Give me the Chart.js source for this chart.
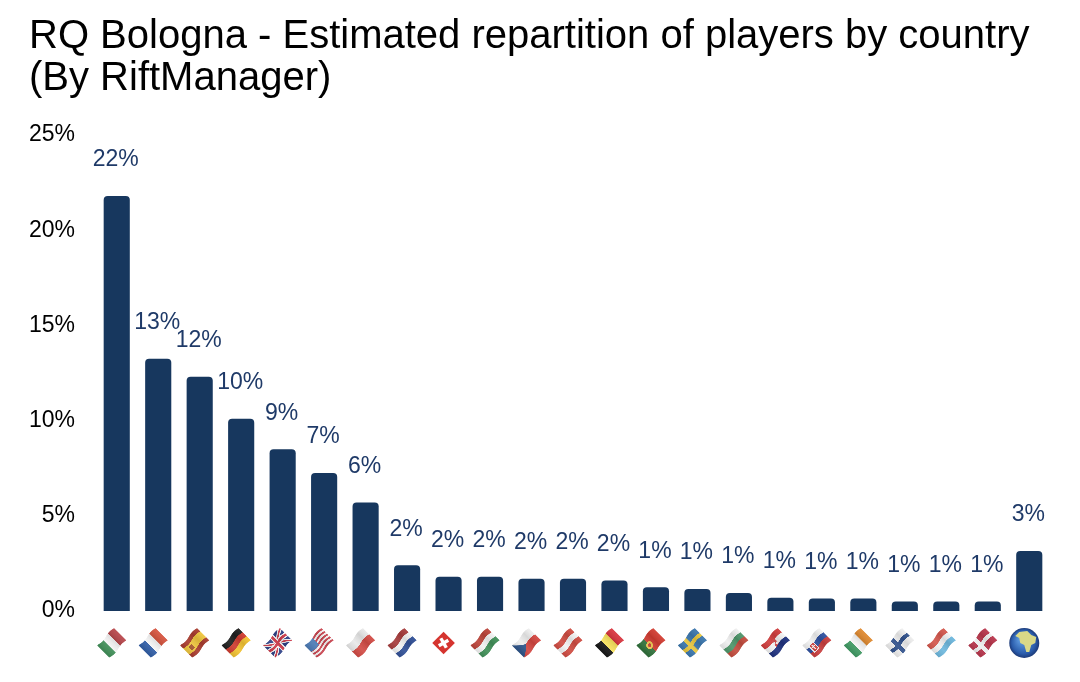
<!DOCTYPE html>
<html>
<head>
<meta charset="utf-8">
<title>RQ Bologna</title>
<style>
  html, body { margin: 0; padding: 0; background: #fff; }
  canvas { display: block; }
</style>
<script src="https://cdn.jsdelivr.net/npm/chart.js@4/dist/chart.umd.min.js"></script>
</head>
<body>
<canvas id="chart" width="1080" height="682"></canvas>
<script>
// data
var titleLines = ["RQ Bologna - Estimated repartition of players by country", "(By RiftManager)"];
var countries = ["Italy", "France", "Spain", "Germany", "UK", "USA", "Poland", "Netherlands", "Switzerland", "Hungary", "Czechia", "Austria", "Belgium", "Portugal", "Sweden", "Bulgaria", "Croatia", "Slovakia", "Ireland", "Finland", "Luxembourg", "Denmark", "World"];
var shares = [21.8, 13.25, 12.3, 10.1, 8.5, 7.25, 5.7, 2.4, 1.8, 1.8, 1.7, 1.7, 1.6, 1.25, 1.15, 0.95, 0.7, 0.65, 0.65, 0.5, 0.5, 0.5, 3.15];
var shareLabels = ["22%", "13%", "12%", "10%", "9%", "7%", "6%", "2%", "2%", "2%", "2%", "2%", "2%", "1%", "1%", "1%", "1%", "1%", "1%", "1%", "1%", "1%", "3%"];
var yTicks = [0, 5, 10, 15, 20, 25];

var FONT = '"Liberation Sans", Arial, sans-serif';
var BAR_COLOR = '#17375e';
var LABEL_COLOR = '#1f3a68';

// one painter per flag, each draws in a 24x17 box
function vert(cols) {
    return function(c) {
        cols.forEach(function(col, i) {
            c.fillStyle = col;
            c.fillRect(i * 24 / cols.length, 0, 24 / cols.length + 0.2, 17);
        });
    };
}
function horiz(cols) {
    return function(c) {
        cols.forEach(function(col, i) {
            c.fillStyle = col;
            c.fillRect(0, i * 17 / cols.length, 24, 17 / cols.length + 0.2);
        });
    };
}
function nordic(bg, cross) {
    return function(c) {
        c.fillStyle = bg;
        c.fillRect(0, 0, 24, 17);
        c.fillStyle = cross;
        c.fillRect(7, 0, 4, 17);
        c.fillRect(0, 6.5, 24, 4);
    };
}
var flagPainters = [
    vert(['#3f8f57', '#f4f4f4', '#b8474c']),
    vert(['#2f5da6', '#f4f4f4', '#d6543f']),
    function(c) {
        horiz(['#a83a2c', '#eec53c', '#eec53c', '#a83a2c'])(c);
        c.fillStyle = '#a5552a';
        c.fillRect(5, 6, 4, 5);
    },
    horiz(['#1c1c1c', '#cf3a2e', '#f2c230']),
    function(c) {
        c.fillStyle = '#2c3f86';
        c.fillRect(0, 0, 24, 17);
        c.strokeStyle = '#f2f2f2';
        c.lineWidth = 3.5;
        c.beginPath();
        c.moveTo(0, 0); c.lineTo(24, 17);
        c.moveTo(24, 0); c.lineTo(0, 17);
        c.stroke();
        c.strokeStyle = '#cc3a4a';
        c.lineWidth = 1.4;
        c.stroke();
        c.fillStyle = '#f2f2f2';
        c.fillRect(9.5, 0, 5, 17);
        c.fillRect(0, 6, 24, 5);
        c.fillStyle = '#cc3a4a';
        c.fillRect(10.7, 0, 2.6, 17);
        c.fillRect(0, 7.2, 24, 2.6);
    },
    function(c) {
        horiz(['#c9444f', '#f4f0f0', '#c9444f', '#f4f0f0', '#c9444f', '#f4f0f0', '#c9444f', '#f4f0f0', '#c9444f'])(c);
        c.fillStyle = '#4a7ab5';
        c.fillRect(0, 0, 11, 9);
    },
    horiz(['#e8e8e8', '#d24a44']),
    horiz(['#a63b3b', '#f2f2f2', '#2f4f96']),
    null, // Switzerland is square, see drawFlag
    horiz(['#bb4238', '#f2f2f2', '#3f8f57']),
    function(c) {
        horiz(['#eeeeee', '#d3443f'])(c);
        c.fillStyle = '#2b5288';
        c.beginPath();
        c.moveTo(0, 0); c.lineTo(11, 8.5); c.lineTo(0, 17);
        c.fill();
    },
    horiz(['#cf4a40', '#f2f2f2', '#cf4a40']),
    vert(['#151515', '#f6e05a', '#d9363f']),
    function(c) {
        c.fillStyle = '#d23b30';
        c.fillRect(0, 0, 24, 17);
        c.fillStyle = '#2c6e37';
        c.fillRect(0, 0, 9.5, 17);
        c.fillStyle = '#e8c24a';
        c.beginPath();
        c.arc(9.5, 8.5, 3.6, 0, Math.PI * 2);
        c.fill();
        c.fillStyle = '#c23a30';
        c.beginPath();
        c.arc(9.5, 8.5, 1.8, 0, Math.PI * 2);
        c.fill();
    },
    nordic('#3a76ad', '#e6c43c'),
    horiz(['#efefef', '#4c9468', '#c24a3c']),
    function(c) {
        horiz(['#cf3b3b', '#f2f2f2', '#1c2f7d'])(c);
        c.fillStyle = '#d04848';
        c.fillRect(10, 4.5, 4.5, 7);
        c.fillStyle = '#f2f2f2';
        c.fillRect(10, 6.5, 2.2, 2.2);
        c.fillRect(12.2, 8.7, 2.2, 2.2);
    },
    function(c) {
        horiz(['#f0f0f0', '#2d4f9e', '#c83c3c'])(c);
        c.fillStyle = '#f0f0f0';
        c.fillRect(3.5, 3.5, 7, 9.5);
        c.fillStyle = '#c83c3c';
        c.fillRect(4.5, 4.5, 5, 7.5);
        c.fillStyle = '#f0f0f0';
        c.fillRect(6.4, 5, 1.2, 6);
        c.fillRect(5, 7, 4, 1.2);
    },
    vert(['#3f9a63', '#f4f4f4', '#e08a30']),
    nordic('#eeeeee', '#2e4f8a'),
    horiz(['#d4574c', '#f2f2f2', '#6db8de']),
    nordic('#b8344a', '#eeeeee'),
    null // globe
];

function waveFlag(ctx, paint, w, h) {
    var scale = 4;
    var off = document.createElement('canvas');
    off.width = w * scale;
    off.height = h * scale;
    var oc = off.getContext('2d');
    oc.scale(scale, scale);
    paint(oc);
    // soft shading across the flag so it reads like the folded emoji
    var sh = oc.createLinearGradient(0, 0, w, 0);
    sh.addColorStop(0, 'rgba(0,0,0,0.1)');
    sh.addColorStop(0.35, 'rgba(255,255,255,0.08)');
    sh.addColorStop(0.7, 'rgba(0,0,0,0.1)');
    sh.addColorStop(1, 'rgba(255,255,255,0.05)');
    oc.fillStyle = sh;
    oc.fillRect(0, 0, w, h);
    // overlap the slices, a gap between them washes the colours out
    for (var i = 0; i < w * 2; i++) {
        var x = i / 2;
        var dy = Math.sin(x / w * Math.PI * 2) * 1;
        var dw = i === w * 2 - 1 ? 0.5 : 1.2;
        ctx.drawImage(off, i * scale / 2, 0, dw * scale, h * scale, x - w / 2, -h / 2 + dy, dw, h);
    }
}

function drawFlag(ctx, index, cx, cy) {
    ctx.save();
    ctx.translate(cx, cy);
    if (countries[index] === 'World') {
        var g = ctx.createRadialGradient(-3, -4, 2, 0, 0, 15);
        g.addColorStop(0, '#5e9be0');
        g.addColorStop(0.75, '#2a5cab');
        g.addColorStop(1, '#1c3a78');
        ctx.fillStyle = g;
        ctx.beginPath();
        ctx.arc(0, 0, 15, 0, Math.PI * 2);
        ctx.fill();
        ctx.fillStyle = '#d9d987';
        ctx.beginPath();
        ctx.moveTo(-5, -11); ctx.lineTo(3, -12); ctx.lineTo(7, -8); ctx.lineTo(12, -6);
        ctx.lineTo(11, 0); ctx.lineTo(7, 2); ctx.lineTo(5, 9); ctx.lineTo(2, 9);
        ctx.lineTo(0, 2); ctx.lineTo(-4, 0); ctx.lineTo(-5, -5); ctx.lineTo(-9, -7);
        ctx.closePath();
        ctx.fill();
    } else if (countries[index] === 'Switzerland') {
        ctx.rotate(-Math.PI / 4);
        ctx.fillStyle = '#d5342f';
        ctx.fillRect(-8, -8, 16, 16);
        ctx.fillStyle = '#ffffff';
        ctx.rotate(Math.PI / 12);
        ctx.fillRect(-1.7, -5.5, 3.4, 11);
        ctx.fillRect(-5.5, -1.7, 11, 3.4);
    } else {
        ctx.rotate(-Math.PI / 4);
        waveFlag(ctx, flagPainters[index], 24, 17);
    }
    ctx.restore();
}

// value labels above the bars and the flags in place of the x tick labels
var barDecorations = {
    id: 'barDecorations',
    afterDatasetsDraw: function(chart) {
        var ctx = chart.ctx;
        var bars = chart.getDatasetMeta(0).data;
        ctx.save();
        ctx.font = '23px ' + FONT;
        ctx.fillStyle = LABEL_COLOR;
        ctx.textAlign = 'center';
        ctx.textBaseline = 'middle';
        bars.forEach(function(bar, i) {
            ctx.fillText(shareLabels[i], bar.x - 1, bar.y - 36);
        });
        ctx.restore();
        var bottom = chart.chartArea.bottom;
        bars.forEach(function(bar, i) {
            drawFlag(ctx, i, bar.x - 5, bottom + 32);
        });
    }
};

var ctx = document.getElementById('chart').getContext('2d');
window.myBar = new Chart(ctx, {
    type: 'bar',
    plugins: [barDecorations],
    data: {
        labels: countries,
        datasets: [{
            data: shares,
            backgroundColor: BAR_COLOR,
            borderRadius: 4,
            borderSkipped: 'bottom',
            barPercentage: 0.63,
            categoryPercentage: 1
        }]
    },
    options: {
        responsive: false,
        animation: false,
        layout: {
            padding: { left: 29, right: 30, top: 16, bottom: 63 }
        },
        plugins: {
            legend: { display: false },
            tooltip: { enabled: false },
            title: {
                display: true,
                text: titleLines,
                align: 'start',
                color: '#000000',
                font: { family: FONT, size: 40, weight: 'normal', lineHeight: 1.05 },
                padding: { top: 0, bottom: 35 }
            }
        },
        scales: {
            x: {
                grid: { display: false },
                border: { display: false },
                ticks: { display: false }
            },
            y: {
                min: 0,
                max: 25,
                afterBuildTicks: function(axis) {
                    axis.ticks = yTicks.map(function(v) { return { value: v }; });
                },
                afterFit: function(axis) {
                    axis.width = 67;
                },
                grid: { display: false, drawTicks: false },
                border: { display: false },
                ticks: {
                    color: '#000000',
                    padding: 21,
                    font: { family: FONT, size: 23 },
                    callback: function(v) { return v + '%'; }
                }
            }
        }
    }
});
</script>
</body>
</html>
